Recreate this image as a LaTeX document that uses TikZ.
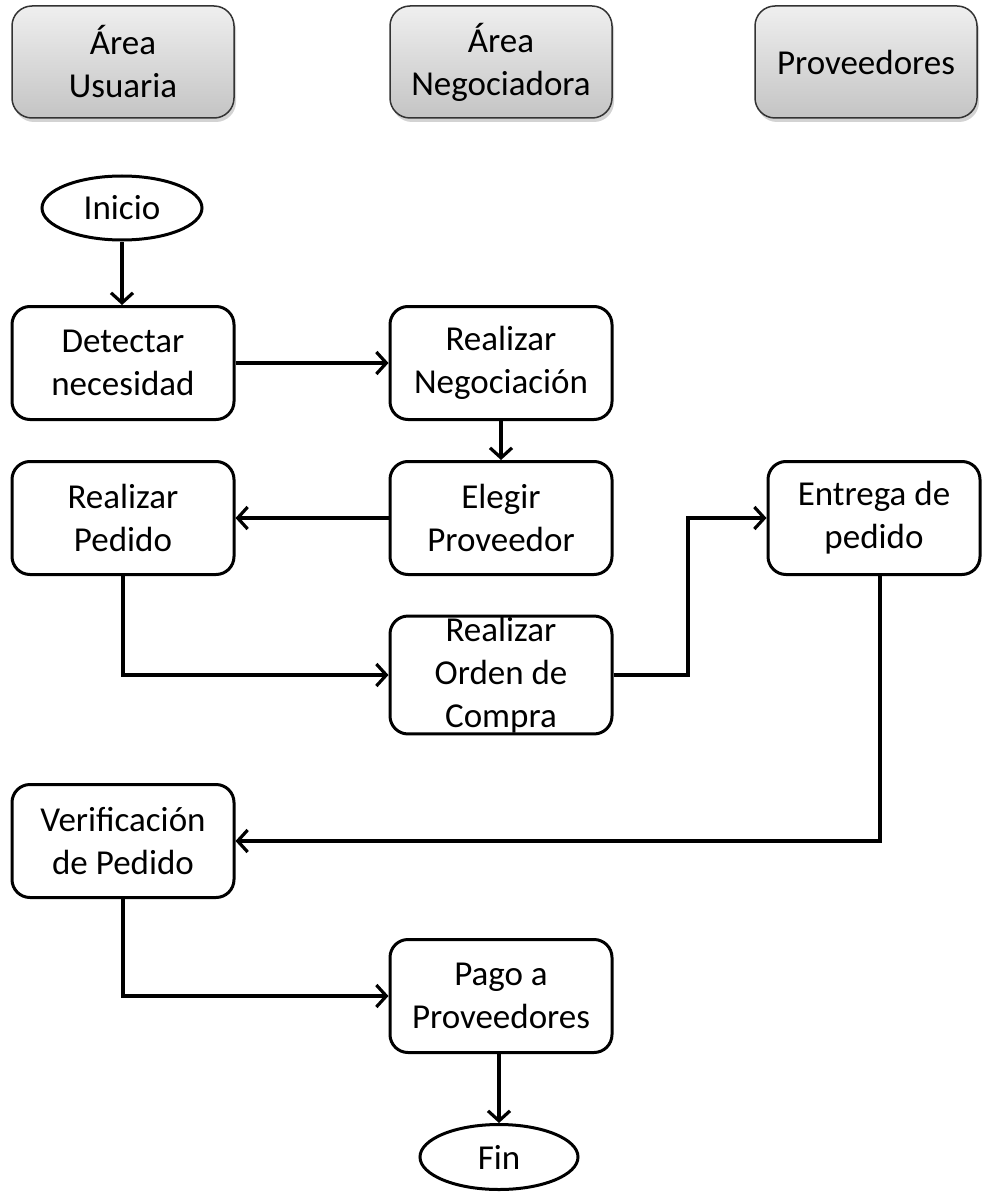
\documentclass[tikz,border=0pt]{standalone}
\usepackage{fontspec}
\setmainfont{Carlito}
\usetikzlibrary{shapes.geometric,arrows.meta,shadows}
\definecolor{hdtop}{HTML}{EFEFEF}
\definecolor{hdbot}{HTML}{C4C4C4}
\begin{document}
\begin{tikzpicture}[x=1pt,y=-1pt,
  every node/.style={font=\fontsize{35}{43}\selectfont, align=center, text=black, inner sep=1pt},
  hdr/.style={draw=black!80, line width=1.5pt, rounded corners=20pt, minimum width=222pt, minimum height=112pt,
     top color=hdtop, bottom color=hdbot, drop shadow={shadow xshift=2pt, shadow yshift=-4pt, opacity=0.35}},
  proc/.style={draw=black, line width=3pt, rounded corners=18pt, minimum width=222pt, minimum height=113pt, fill=white},
  term/.style={draw=black, line width=3pt, ellipse, fill=white},
  conn/.style={draw=black, line width=3.2pt, -{Straight Barb[length=10pt,width=22pt]}}
]
\useasboundingbox (0,0) rectangle (982,1193);
% headers
\node[hdr] (h1) at (123,62) {Área\\Usuaria};
\node[hdr] (h2) at (501,62) {Área\\Negociadora};
\node[hdr] (h3) at (866,62) {Proveedores};
% flow
\node[term, minimum width=160pt, minimum height=64pt] (ini) at (122,208) {Inicio};
\node[proc] (det) at (123,363) {Detectar\\necesidad};
\node[proc] (neg) at (501,363) {Realizar\\Negociación};
\node[proc] (ele) at (501,518) {Elegir\\Proveedor};
\node[proc] (ped) at (123,518) {Realizar\\Pedido};
\node[proc, minimum width=212pt] (ent) at (874,518) {Entrega de\\pedido};
\node[proc, minimum height=115pt] (ord) at (501,675) {Realizar\\Orden de\\Compra};
\node[proc] (ver) at (123,841) {Verificación\\de Pedido};
\node[proc] (pag) at (501,996) {Pago a\\Proveedores};
\node[term, minimum width=158pt, minimum height=65pt] (fin) at (499,1157) {Fin};
% connectors
\draw[conn] (ini.south) -- (ini.south |- det.north);
\draw[conn] (det.east) -- (neg.west);
\draw[conn] (neg.south) -- (ele.north);
\draw[conn] (ele.west) -- (ped.east);
\draw[conn] (ped.south) |- (ord.west);
\coordinate (m1) at (688,675);
\draw[conn] (ord.east) -- (m1) |- (ent.west);
\draw[conn] (880,575) |- (ver.east);
\draw[conn] (ver.south) |- (pag.west);
\draw[conn] (pag.south -| fin.north) -- (fin.north);
\end{tikzpicture}
\end{document}
